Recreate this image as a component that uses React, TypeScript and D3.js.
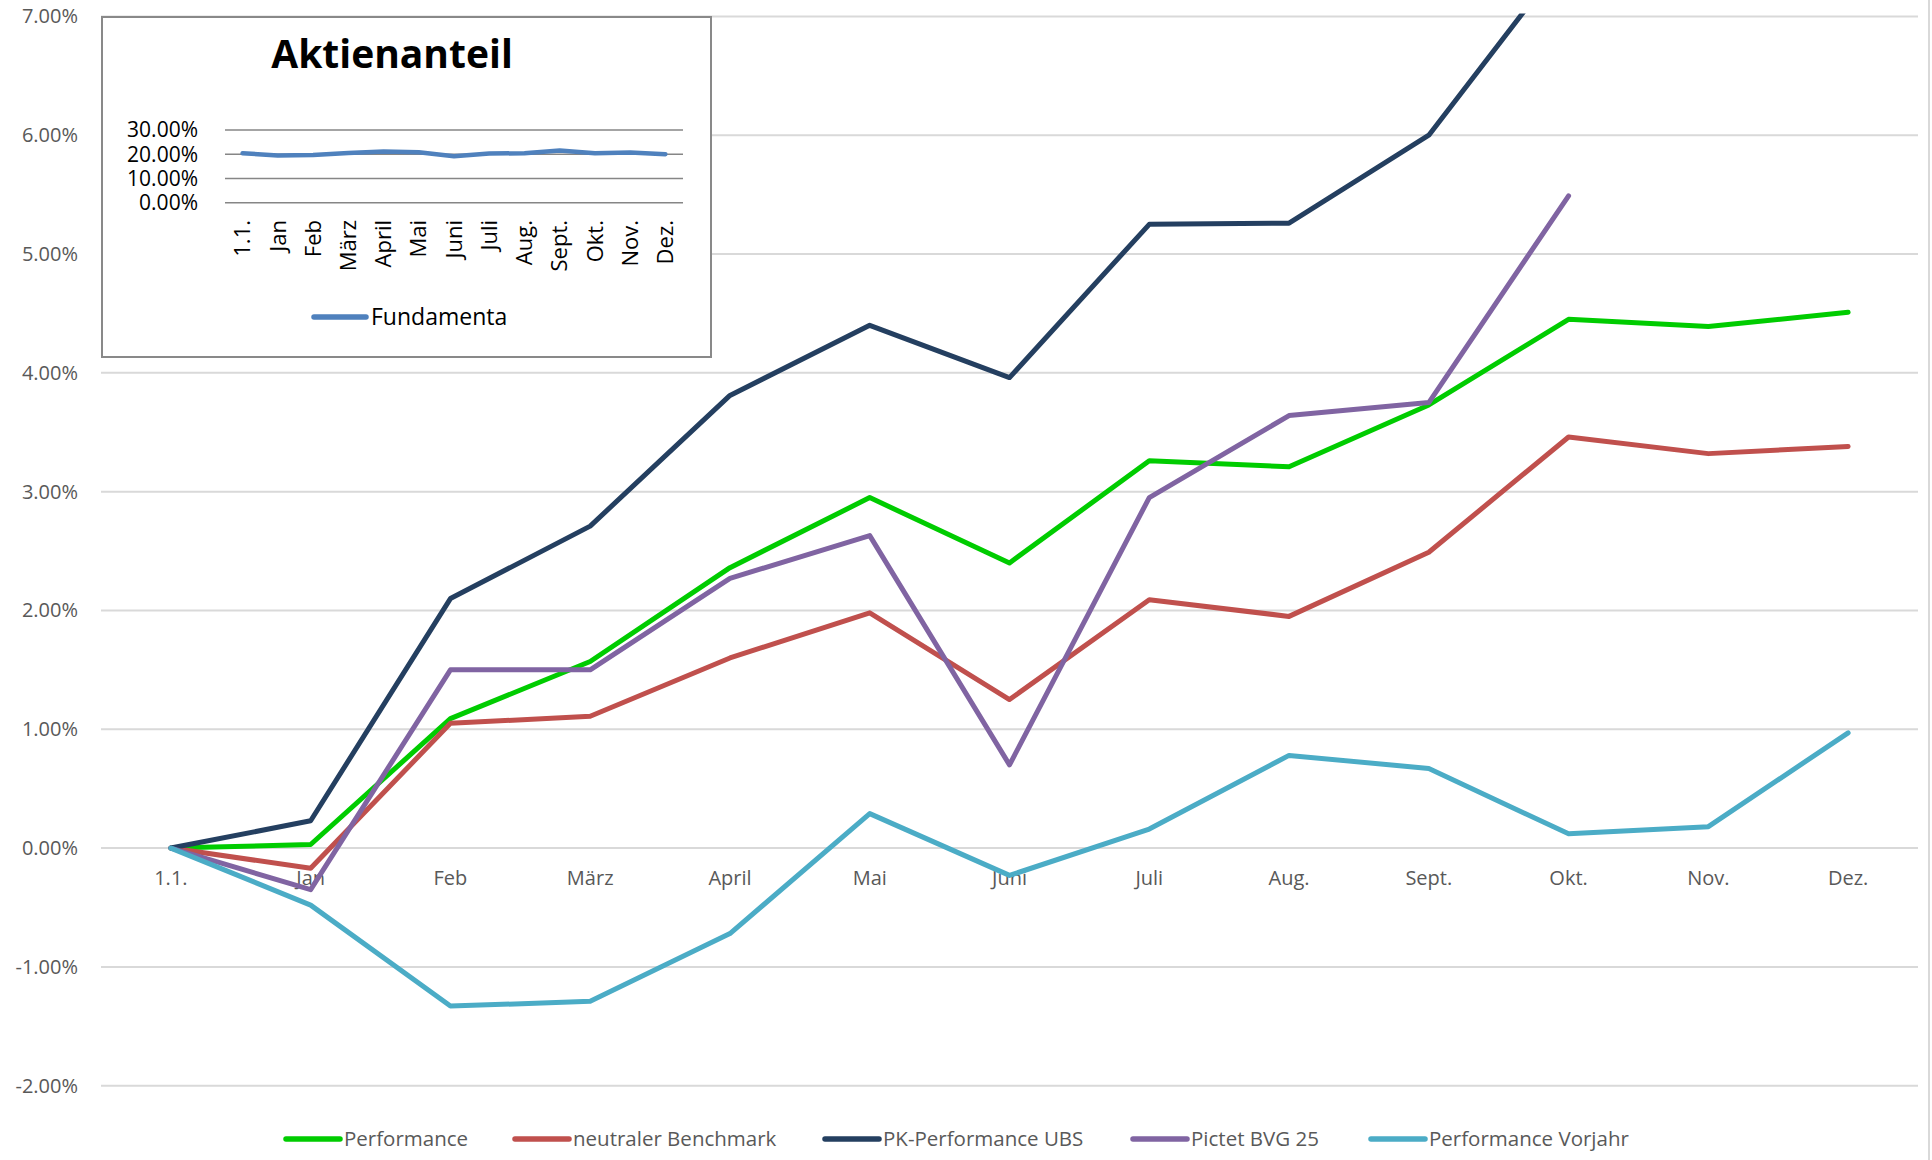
import * as d3 from "d3";
import React from "react";

const categories = ["1.1.", "Jan", "Feb", "März", "April", "Mai", "Juni", "Juli", "Aug.", "Sept.", "Okt.", "Nov.", "Dez."];

const performance = [0, 0.03, 1.09, 1.57, 2.36, 2.95, 2.4, 3.26, 3.21, 3.73, 4.45, 4.39, 4.51];
const benchmark = [0, -0.17, 1.05, 1.11, 1.6, 1.98, 1.25, 2.09, 1.95, 2.49, 3.46, 3.32, 3.38];
const pkUbs = [0, 0.23, 2.1, 2.71, 3.81, 4.4, 3.96, 5.25, 5.26, 6.0, 7.53, null, null];
const pictet = [0, -0.35, 1.5, 1.5, 2.27, 2.63, 0.7, 2.95, 3.64, 3.75, 5.49, null, null];
const vorjahr = [0, -0.48, -1.33, -1.29, -0.72, 0.29, -0.23, 0.16, 0.78, 0.67, 0.12, 0.18, 0.97];

const yTicks = [-2, -1, 0, 1, 2, 3, 4, 5, 6, 7];

// inset chart
const fundamenta = [20.4, 19.5, 19.7, 20.5, 21.1, 20.8, 19.2, 20.3, 20.4, 21.5, 20.4, 20.7, 20.0];
const insetTicks = [0, 10, 20, 30];

const series = [
  { name: "Performance", values: performance, color: "#00CC00" },
  { name: "neutraler Benchmark", values: benchmark, color: "#C0504D" },
  { name: "PK-Performance UBS", values: pkUbs, color: "#243F60" },
  { name: "Pictet BVG 25", values: pictet, color: "#8064A2" },
  { name: "Performance Vorjahr", values: vorjahr, color: "#4BACC6" },
];

const legendX = [286, 515, 825, 1133, 1371];

const FONT = "'Open Sans', sans-serif";
const W = 1932;
const H = 1160;

export default function App() {
  const x = d3.scalePoint<string>().domain(categories).range([101, 1918]).padding(0.5);
  const y = d3.scaleLinear().domain([-2, 7]).range([1085.7, 16.4]);

  const line = d3
    .line<number | null>()
    .defined((d) => d !== null)
    .x((_, i) => x(categories[i]) as number)
    .y((d) => y(d as number));

  const ix = d3.scalePoint<string>().domain(categories).range([225, 683]).padding(0.5);
  const iy = d3.scaleLinear().domain([0, 30]).range([202.7, 130]);
  const insetLine = d3
    .line<number>()
    .x((_, i) => ix(categories[i]) as number)
    .y((d) => iy(d));

  return (
    <div style={{ position: "absolute", left: 0, top: 0 }}>
      <svg width={W} height={H} style={{ display: "block", background: "#fff" }} fontFamily={FONT}>
        <defs>
          <clipPath id="plot">
            <rect x={101} y={y(7) - 3} width={1817} height={y(-2) - y(7) + 6} />
          </clipPath>
        </defs>
        <line x1={1929} x2={1929} y1={0} y2={H} stroke="#D9D9D9" strokeWidth={2} />

        {yTicks.map((t) => (
          <g key={t}>
            <line x1={101} x2={1918} y1={y(t)} y2={y(t)} stroke="#D9D9D9" strokeWidth={2} />
            <text x={78} y={y(t)} dy="0.35em" textAnchor="end" fontSize={20} fill="#595959">
              {t.toFixed(2) + "%"}
            </text>
          </g>
        ))}

        {categories.map((c) => (
          <text key={c} x={x(c)} y={885} textAnchor="middle" fontSize={20} fill="#595959">
            {c}
          </text>
        ))}

        <g clipPath="url(#plot)">
          {series.map((s) => (
            <path
              key={s.name}
              d={line(s.values) || ""}
              fill="none"
              stroke={s.color}
              strokeWidth={5}
              strokeLinejoin="round"
              strokeLinecap="round"
            />
          ))}
        </g>

        {series.map((s, i) => (
          <g key={s.name}>
            <line
              x1={legendX[i]}
              x2={legendX[i] + 54}
              y1={1139}
              y2={1139}
              stroke={s.color}
              strokeWidth={5.5}
              strokeLinecap="round"
            />
            <text x={legendX[i] + 58} y={1139} dy="0.35em" fontSize={20.5} fill="#595959">
              {s.name}
            </text>
          </g>
        ))}

        {/* inset */}
        <rect x={102} y={17} width={609} height={340} fill="#fff" stroke="#898989" strokeWidth={2} />
        <text x={392} y={68} textAnchor="middle" fontSize={39} fontWeight="bold" fill="#000">
          Aktienanteil
        </text>
        {insetTicks.map((t) => (
          <g key={t}>
            <line x1={225} x2={683} y1={iy(t)} y2={iy(t)} stroke="#868686" strokeWidth={1.5} />
            <text x={198} y={iy(t)} dy="0.35em" textAnchor="end" fontSize={21} fill="#000">
              {t.toFixed(2) + "%"}
            </text>
          </g>
        ))}
        {categories.map((c) => (
          <text
            key={c}
            transform={`translate(${ix(c)},220) rotate(-90)`}
            dy="0.35em"
            textAnchor="end"
            fontSize={22}
            fill="#000"
          >
            {c}
          </text>
        ))}
        <path
          d={insetLine(fundamenta) || ""}
          fill="none"
          stroke="#4F81BD"
          strokeWidth={4.5}
          strokeLinejoin="round"
          strokeLinecap="round"
        />
        <line x1={314} x2={366} y1={317} y2={317} stroke="#4F81BD" strokeWidth={5.5} strokeLinecap="round" />
        <text x={371} y={317} dy="0.35em" fontSize={23} fill="#000">
          Fundamenta
        </text>
      </svg>
    </div>
  );
}
